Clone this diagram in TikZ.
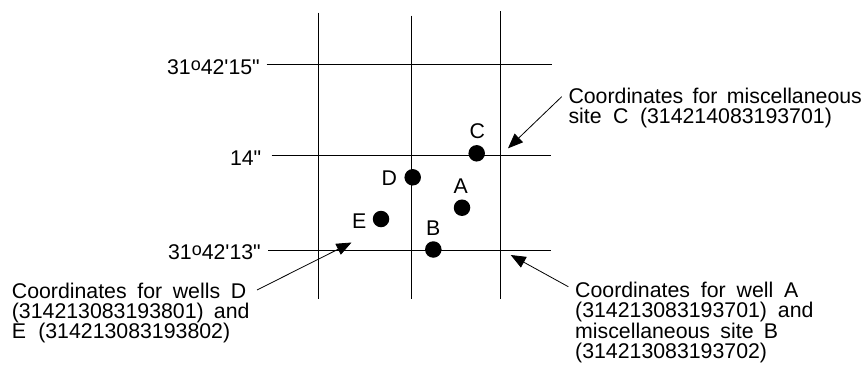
\documentclass[tikz,border=0pt]{standalone}
\usepackage{fontspec}
\newfontfamily\labfont{Liberation Sans}
\usetikzlibrary{arrows.meta}
\newcommand{\dego}{\raisebox{4pt}{\fontsize{18}{18}\selectfont o}}
\begin{document}
\begin{tikzpicture}[x=1pt,y=-1pt,
  gridline/.style={line width=0.9pt,black},
  dot/.style={circle,fill=black,inner sep=0pt,minimum size=16.5pt},
  letter/.style={inner sep=0pt,anchor=center},
  txt/.style={inner sep=0pt,anchor=base west},
  lat/.style={inner sep=0pt,anchor=base east},
  pointer/.style={line width=0.8pt,-{Triangle[length=15pt,width=12pt]}},
  every node/.style={font=\labfont\fontsize{21.3}{20}\selectfont}]
\useasboundingbox (0,0) rectangle (866,365);
% grid
\coordinate (v1t) at (318,12.7);  \coordinate (v1b) at (318,299);
\coordinate (v2t) at (411.5,15.7); \coordinate (v2b) at (411.5,299);
\coordinate (v3t) at (500.3,11.3); \coordinate (v3b) at (500.3,299);
\coordinate (h1l) at (266.7,64.7); \coordinate (h1r) at (551.7,64.7);
\coordinate (h2l) at (271.7,155);  \coordinate (h2r) at (551,155);
\coordinate (h3l) at (268,250.5);  \coordinate (h3r) at (550.7,250.5);
\draw[gridline] (v1t) -- (v1b);
\draw[gridline] (v2t) -- (v2b);
\draw[gridline] (v3t) -- (v3b);
\draw[gridline] (h1l) -- (h1r);
\draw[gridline] (h2l) -- (h2r);
\draw[gridline] (h3l) -- (h3r);
% latitude labels
\node[lat] (lat15) at (260,74.5) {31\dego42'15"};
\node[lat] (lat14) at (261.5,165.5) {14"};
\node[lat] (lat13) at (261,259) {31\dego42'13"};
% dots
\node[dot] (dC) at (476.7,153.3) {};
\node[dot] (dD) at (412.7,177.3) {};
\node[dot] (dA) at (462,207.7) {};
\node[dot] (dE) at (381,219) {};
\node[dot] (dB) at (433.3,249.5) {};
\node[letter] (lC) at (477.3,130.7) {C};
\node[letter] (lD) at (389.3,178.3) {D};
\node[letter] (lA) at (460.7,185.7) {A};
\node[letter] (lE) at (359.3,221) {E};
\node[letter] (lB) at (433.3,227.7) {B};
% left text
\node[txt] (t1) at (11.7,298.3) {\makebox[234.3pt][s]{Coordinates for wells D}};
\node[txt] (t2) at (11.7,318.3) {\makebox[237.6pt][s]{(314213083193801) and}};
\node[txt] (t3) at (11.7,338.3) {\makebox[218.3pt][s]{E (314213083193802)}};
% top right text
\node[txt] (r1) at (568.3,103.3) {\makebox[293.4pt][s]{Coordinates for miscellaneous}};
\node[txt] (r2) at (568.3,123.8) {\makebox[263.4pt][s]{site C (314214083193701)}};
% bottom right text
\node[txt] (b1) at (575,297.3) {\makebox[223.3pt][s]{Coordinates for well A}};
\node[txt] (b2) at (575,317.6) {\makebox[238.3pt][s]{(314213083193701) and}};
\node[txt] (b3) at (575,338) {\makebox[203pt][s]{miscellaneous site B}};
\node[txt] (b4) at (575,358.3) {(314213083193702)};
% pointers
\coordinate (pDt) at (257,290);   \coordinate (pDh) at (351.5,242.5);
\coordinate (pCt) at (561.7,96.7); \coordinate (pCh) at (508,148.3);
\coordinate (pAt) at (568.3,286.7); \coordinate (pAh) at (510.7,255);
\draw[pointer] (pDt) -- (pDh);
\draw[pointer] (pCt) -- (pCh);
\draw[pointer] (pAt) -- (pAh);
\end{tikzpicture}
\end{document}
